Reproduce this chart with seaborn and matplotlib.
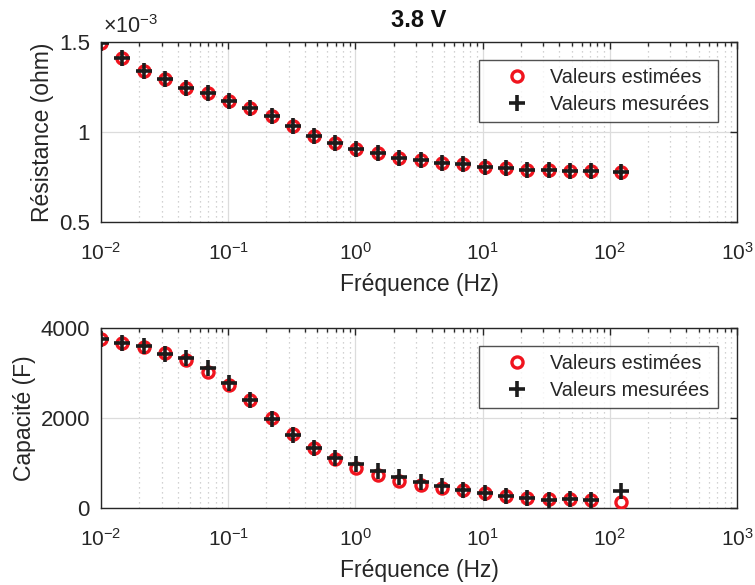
import numpy as np
import pandas as pd
import matplotlib
matplotlib.use("Agg")
import matplotlib.pyplot as plt
import seaborn as sns
from matplotlib.ticker import FuncFormatter, LogLocator, NullFormatter

# ---------------- data ----------------
freq_hz = [0.0100, 0.0147, 0.0216, 0.0318, 0.0468, 0.0688, 0.101, 0.149, 0.219,
           0.322, 0.473, 0.696, 1.02, 1.51, 2.21, 3.26, 4.79, 7.05, 10.4,
           15.2, 22.4, 33.0, 48.5, 71.3, 122.0]
res_estimated = [1.496e-3, 1.409e-3, 1.340e-3, 1.292e-3, 1.247e-3, 1.217e-3, 1.172e-3,
                 1.133e-3, 1.087e-3, 1.033e-3, 0.979e-3, 0.940e-3, 0.908e-3, 0.882e-3,
                 0.858e-3, 0.845e-3, 0.830e-3, 0.822e-3, 0.807e-3, 0.798e-3, 0.790e-3,
                 0.789e-3, 0.785e-3, 0.785e-3, 0.779e-3]
res_measured = list(res_estimated)
cap_estimated = [3756, 3659, 3572, 3440, 3289, 3030, 2733, 2400, 1993, 1644, 1326,
                 1089, 896, 733, 607, 511, 452, 400, 326, 274, 230, 193, 193, 178, 141]
cap_measured = [3756, 3659, 3590, 3430, 3326, 3104, 2770, 2400, 1970, 1622, 1326,
                1111, 978, 830, 681, 585, 489, 400, 326, 267, 230, 178, 193, 178, 370]

title = "3.8 V"
xlabel = "Fréquence (Hz)"
ylabel_top = "Résistance (ohm)"
ylabel_bot = "Capacité (F)"
leg_est = "Valeurs estimées"
leg_mes = "Valeurs mesurées"
top_yticks = [0.5e-3, 1.0e-3, 1.5e-3]
bot_yticks = [0, 2000, 4000]

# ---------------- style ----------------
sns.set_theme(style="white")
plt.rcParams['font.family'] = ['Liberation Sans', 'DejaVu Sans']
plt.rcParams['mathtext.fontset'] = 'custom'
plt.rcParams['mathtext.rm'] = 'Liberation Sans'
plt.rcParams['mathtext.it'] = 'Liberation Sans'
plt.rcParams['axes.unicode_minus'] = False

TXT = '#262626'
RED = '#f0141e'
BLK = '#1c1c1c'

fig = plt.figure(figsize=(7.55, 5.85), dpi=100)
ax1 = fig.add_axes([101/755, 1-222/585, 636/755, 180/585])
ax2 = fig.add_axes([101/755, 1-508/585, 636/755, 180/585])

df_top = pd.DataFrame({"f": freq_hz, "est": res_estimated, "mes": res_measured})
df_bot = pd.DataFrame({"f": freq_hz, "est": cap_estimated, "mes": cap_measured})

def draw(ax, df, ylim, yticks, ylabel):
    sns.lineplot(data=df, x="f", y="est", ax=ax, linestyle='', marker='o',
                 markersize=8, markerfacecolor='none', markeredgecolor=RED,
                 markeredgewidth=2.4, color=RED, label=leg_est, zorder=3)
    sns.lineplot(data=df, x="f", y="mes", ax=ax, linestyle='', marker='+',
                 markersize=12, markeredgecolor=BLK, markeredgewidth=2.6,
                 color=BLK, label=leg_mes, zorder=4)
    ax.set_xscale('log')
    ax.set_xlim(1e-2, 1e3)
    ax.set_ylim(*ylim)
    ax.set_yticks(yticks)
    ax.xaxis.set_minor_locator(LogLocator(base=10, subs=np.arange(2, 10), numticks=20))
    ax.xaxis.set_minor_formatter(NullFormatter())
    ax.grid(True, which='major', color='#dcdcdc', linewidth=0.9, linestyle='-')
    ax.grid(True, which='minor', axis='x', color='#c4c4c4', linewidth=0.9,
            linestyle=(0, (1, 3)))
    ax.set_axisbelow(True)
    ax.tick_params(which='both', direction='in', top=True, right=True,
                   colors=TXT, labelcolor=TXT)
    ax.tick_params(axis='y', labelsize=16, pad=8)
    ax.tick_params(axis='x', labelsize=15, pad=14)
    ax.tick_params(which='major', length=5, width=1)
    ax.tick_params(which='minor', length=3, width=1)
    for s in ax.spines.values():
        s.set_color(TXT)
        s.set_linewidth(1.0)
    ax.set_xlabel(xlabel, fontsize=16.5, color=TXT, labelpad=7)
    ax.set_ylabel(ylabel, fontsize=16.5, color=TXT, labelpad=3.5)
    leg = ax.legend(loc='upper right', bbox_to_anchor=(0.97, 0.9),
                    borderaxespad=0, fontsize=14.3, frameon=True, fancybox=False,
                    handletextpad=0.2, handlelength=3.0, borderpad=0.42,
                    labelspacing=0.38)
    leg.get_frame().set_edgecolor(TXT)
    leg.get_frame().set_linewidth(1.0)
    for t in leg.get_texts():
        t.set_color(TXT)

draw(ax1, df_top, (0.5e-3, 1.5e-3), top_yticks, ylabel_top)
draw(ax2, df_bot, (0, 4000), bot_yticks, ylabel_bot)

ax1.yaxis.set_major_formatter(FuncFormatter(lambda v, p: f"{v*1e3:g}"))
ax1.text(0.003, 1.05, r"$\times10^{-3}$", transform=ax1.transAxes,
         fontsize=15.5, color=TXT, ha='left', va='baseline')
ax1.set_title(title, fontsize=17, fontweight='bold', color='#111111', pad=11)

fig.savefig("out.png", dpi=100)
